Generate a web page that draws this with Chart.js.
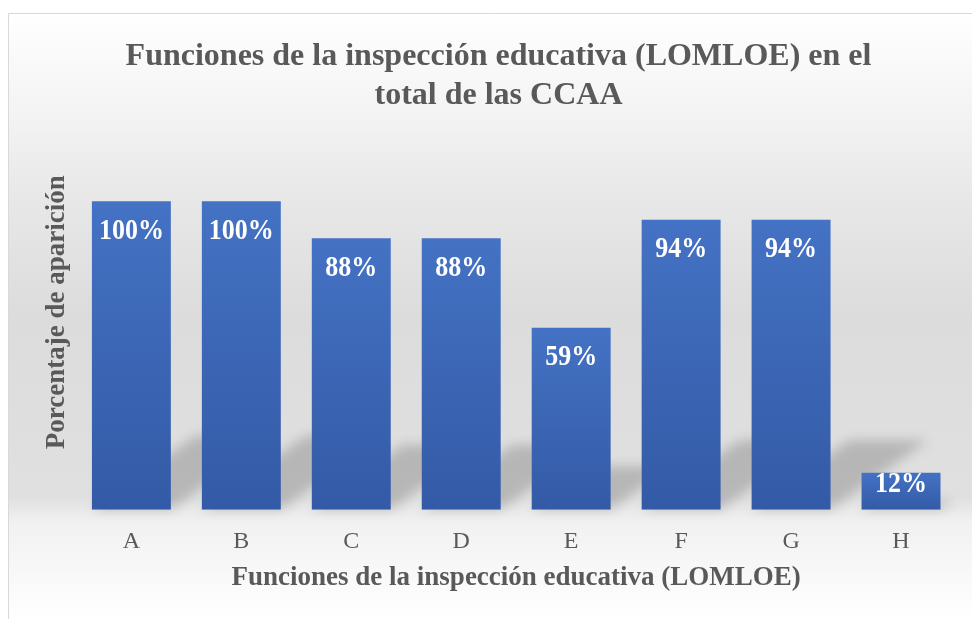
<!DOCTYPE html>
<html>
<head>
<meta charset="utf-8">
<script src="https://cdn.jsdelivr.net/npm/chart.js@4/dist/chart.umd.min.js"></script>
<style>
  html, body { margin: 0; padding: 0; background: #ffffff; }
  #wrap { width: 972px; height: 619px; position: relative; }
</style>
</head>
<body>
<div id="wrap"><canvas id="c" width="972" height="619"></canvas></div>
<script>
const categories = ['A', 'B', 'C', 'D', 'E', 'F', 'G', 'H'];
const percentages = [100, 100, 88, 88, 59, 94, 94, 12];
const titleLines = ['Funciones de la inspección educativa (LOMLOE) en el', 'total de las CCAA'];
const xTitle = 'Funciones de la inspección educativa (LOMLOE)';
const yTitle = 'Porcentaje de aparición';

const SERIF = '"Liberation Serif", "Times New Roman", serif';
const GRAY = '#595959';

const backgroundPlugin = {
  id: 'bg',
  beforeDraw(chart) {
    const ctx = chart.ctx;
    const W = chart.width, H = chart.height;
    ctx.save();
    const g = ctx.createLinearGradient(0, 13, 0, H);
    g.addColorStop(0.00, '#ffffff');
    g.addColorStop(0.17, '#f3f3f3');
    g.addColorStop(0.30, '#e8e8e8');
    g.addColorStop(0.50, '#dcdcdc');
    g.addColorStop(0.80, '#e0e0e0');
    g.addColorStop(0.84, '#f1f1f1');
    g.addColorStop(1.00, '#ffffff');
    ctx.fillStyle = '#ffffff';
    ctx.fillRect(0, 0, W, H);
    ctx.fillStyle = g;
    ctx.fillRect(9, 14, W - 9, H - 14);
    ctx.strokeStyle = '#d9d9d9';
    ctx.lineWidth = 1;
    ctx.beginPath();
    ctx.moveTo(8.5, H + 2);
    ctx.lineTo(8.5, 13.5);
    ctx.lineTo(W + 2, 13.5);
    ctx.stroke();
    ctx.restore();
  },
  beforeDatasetsDraw(chart) {
    const ctx = chart.ctx;
    const meta = chart.getDatasetMeta(0);
    ctx.save();
    ctx.filter = 'blur(6px)';
    ctx.fillStyle = 'rgba(0,0,0,0.18)';
    meta.data.forEach(bar => {
      const p = bar.getProps(['x', 'y', 'base', 'width'], true);
      const l = p.x - p.width / 2, r = p.x + p.width / 2;
      const h = p.base - p.y;
      const sh = 0.24 * h, dx = 1.4 * sh;
      ctx.beginPath();
      ctx.moveTo(l, p.base);
      ctx.lineTo(r, p.base);
      ctx.lineTo(r + dx, p.base - sh);
      ctx.lineTo(l + dx, p.base - sh);
      ctx.closePath();
      ctx.fill();
    });
    ctx.restore();
  }
};

const labelPlugin = {
  id: 'barLabels',
  afterDatasetsDraw(chart) {
    const ctx = chart.ctx;
    const meta = chart.getDatasetMeta(0);
    ctx.fillStyle = '#ffffff';
    meta.data.forEach((bar, i) => {
      const p = bar.getProps(['x', 'y', 'base'], true);
      const h = p.base - p.y;
      const off = Math.min(29, h * 0.28);
      ctx.save();
      ctx.translate(p.x, p.y + off + 1);
      ctx.scale(1, 1.13);
      ctx.fillStyle = '#ffffff';
      ctx.font = 'bold 26px ' + SERIF;
      ctx.textAlign = 'center';
      ctx.textBaseline = 'middle';
      ctx.fillText(percentages[i] + '%', 0, 0);
      ctx.restore();
    });
  }
};

function barGradient(context) {
  const chart = context.chart;
  const ys = chart.scales && chart.scales.y;
  if (!chart.chartArea || !ys) return '#4472C4';
  const v = context.raw;
  const top = ys.getPixelForValue(v);
  const base = ys.getPixelForValue(0);
  const g = chart.ctx.createLinearGradient(0, top, 0, base);
  g.addColorStop(0, '#4472C4');
  g.addColorStop(1, '#335AA6');
  return g;
}

new Chart(document.getElementById('c'), {
  type: 'bar',
  data: {
    labels: categories,
    datasets: [{
      data: percentages,
      backgroundColor: barGradient,
      borderWidth: 0,
      categoryPercentage: 1.0,
      barPercentage: 0.718
    }]
  },
  options: {
    responsive: false,
    animation: false,
    devicePixelRatio: 1,
    layout: { padding: { left: 41, right: 16, top: 0, bottom: 25 } },
    plugins: {
      legend: { display: false },
      tooltip: { enabled: false },
      title: {
        display: true,
        text: titleLines,
        color: GRAY,
        font: { family: SERIF, size: 32, weight: 'bold', lineHeight: 1.2 },
        padding: { top: 38, bottom: 0 }
      }
    },
    scales: {
      x: {
        grid: { display: false, drawTicks: false },
        border: { display: false },
        ticks: { color: GRAY, font: { family: SERIF, size: 24 }, padding: 18 },
        title: {
          display: true,
          text: xTitle,
          color: GRAY,
          font: { family: SERIF, size: 27, weight: 'bold', lineHeight: 1.2 },
          padding: { top: -13, bottom: 0 }
        }
      },
      y: {
        min: 0,
        max: 128,
        grid: { display: false, drawTicks: false },
        border: { display: false },
        ticks: { display: false },
        title: {
          display: true,
          text: yTitle,
          color: GRAY,
          font: { family: SERIF, size: 27, weight: 'bold', lineHeight: 1.2 },
          padding: { top: 0, bottom: 3 }
        }
      }
    }
  },
  plugins: [backgroundPlugin, labelPlugin]
});
</script>
</body>
</html>
